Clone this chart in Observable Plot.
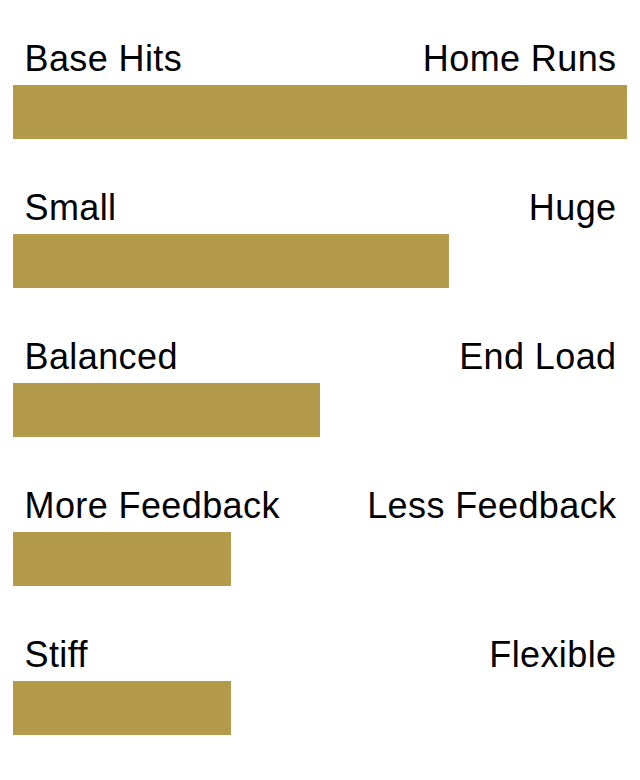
<!DOCTYPE html>
<html>
<head>
<meta charset="utf-8">
<script src="https://cdn.jsdelivr.net/npm/d3@7"></script>
<script src="https://cdn.jsdelivr.net/npm/@observablehq/plot@0.6"></script>
<style>
  html, body { margin: 0; padding: 0; background: #fff; }
  #chart svg { display: block; }
  #chart svg text { letter-spacing: 0.4px; }
</style>
</head>
<body>
<div id="chart"></div>
<script>
const leftLabels = ["Base Hits", "Small", "Balanced", "More Feedback", "Stiff"];
const rightLabels = ["Home Runs", "Huge", "End Load", "Less Feedback", "Flexible"];
const values = [100, 71, 50, 35.5, 35.5];

const rows = leftLabels.map((l, i) => ({ key: l, left: l, right: rightLabels[i], value: values[i] }));

const chart = Plot.plot({
  width: 640,
  height: 780,
  marginTop: 0,
  marginBottom: 32.5,
  marginLeft: 13,
  marginRight: 13,
  x: { domain: [0, 100], axis: null },
  y: { domain: leftLabels, axis: null, padding: 0 },
  style: { fontFamily: "'Liberation Sans', Arial, sans-serif", background: "#fff" },
  marks: [
    Plot.barX(rows, { x1: 0, x2: "value", y: "key", fill: "#b39b4b", insetTop: 84, insetBottom: 11 }),
    Plot.text(rows, { x: () => 0, y: "key", text: "left", textAnchor: "start", dx: 11, dy: -17, fontSize: 36, fill: "#000" }),
    Plot.text(rows, { x: () => 100, y: "key", text: "right", textAnchor: "end", dx: -11, dy: -17, fontSize: 36, fill: "#000" })
  ]
});
document.getElementById("chart").appendChild(chart);
</script>
</body>
</html>
